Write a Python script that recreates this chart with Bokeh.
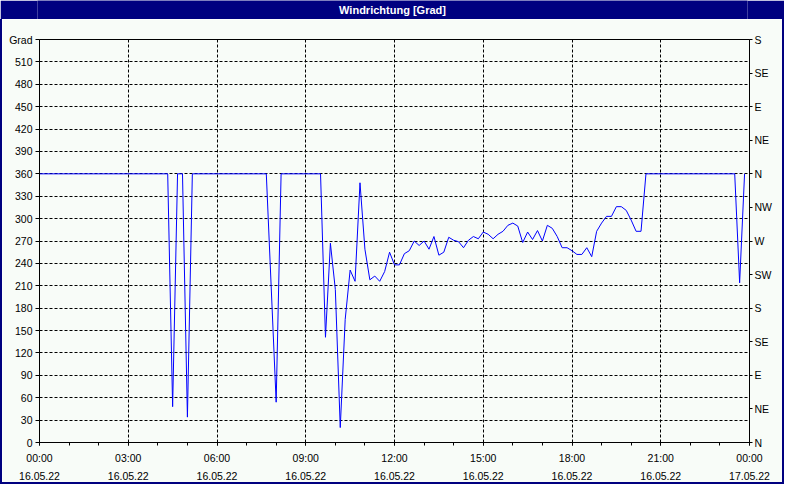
from bokeh.plotting import figure
from bokeh.models import Range1d, LinearAxis, FixedTicker, Label, ColumnDataSource
from bokeh.layouts import column
from bokeh.embed import file_html
from bokeh.resources import INLINE

# ---- data ----
times = ["00:00", "04:20", "04:30", "04:40", "04:50", "05:00", "05:10",
         "07:40", "07:50", "08:00", "08:10",
         "09:30", "09:40", "09:50", "10:00", "10:10", "10:20", "10:30", "10:40", "10:50",
         "11:00", "11:10", "11:20", "11:30", "11:40", "11:50",
         "12:00", "12:10", "12:20", "12:30", "12:40", "12:50",
         "13:00", "13:10", "13:20", "13:30", "13:40", "13:50",
         "14:00", "14:10", "14:20", "14:30", "14:40", "14:50",
         "15:00", "15:10", "15:20", "15:30", "15:40", "15:50",
         "16:00", "16:10", "16:20", "16:30", "16:40", "16:50",
         "17:00", "17:10", "17:20", "17:30", "17:40", "17:50",
         "18:00", "18:10", "18:20", "18:30", "18:40", "18:50",
         "19:00", "19:10", "19:20", "19:30", "19:40", "19:50",
         "20:00", "20:10", "20:20", "20:30",
         "23:30", "23:40", "23:50"]
direction = [360, 360, 48, 360, 360, 34, 360,
             360, 207, 54, 360,
             360, 141, 267, 205, 20, 165, 231, 216, 348,
             259, 218, 223, 216, 229, 255,
             238, 238, 253, 257, 270, 264,
             270, 259, 276, 251, 255, 275,
             271, 269, 261, 271, 276, 273,
             282, 279, 273, 279, 283, 291,
             294, 290, 268, 282, 272, 284,
             270, 291, 287, 276, 261, 261,
             257, 252, 252, 261, 249, 283,
             294, 303, 303, 316, 316, 311,
             298, 283, 283, 360,
             360, 214, 360]

x_ticks = [0, 3, 6, 9, 12, 15, 18, 21, 24]
x_minor_ticks = [0, 1, 2, 3, 4, 5, 6, 7, 8, 9, 10, 11, 12,
                 13, 14, 15, 16, 17, 18, 19, 20, 21, 22, 23, 24]
x_tick_labels = ["00:00\n16.05.22", "03:00\n16.05.22", "06:00\n16.05.22",
                 "09:00\n16.05.22", "12:00\n16.05.22", "15:00\n16.05.22",
                 "18:00\n16.05.22", "21:00\n16.05.22", "00:00\n17.05.22"]
y_ticks = [0, 30, 60, 90, 120, 150, 180, 210, 240, 270, 300, 330, 360,
           390, 420, 450, 480, 510, 540]
y_tick_labels = ["0", "30", "60", "90", "120", "150", "180", "210", "240", "270",
                 "300", "330", "360", "390", "420", "450", "480", "510", "Grad"]
compass_ticks = [0, 45, 90, 135, 180, 225, 270, 315, 360, 405, 450, 495, 540]
compass_labels = ["N", "NE", "E", "SE", "S", "SW", "W", "NW", "N", "NE", "E", "SE", "S"]
title_text = "Windrichtung [Grad]"

hours = [int(t[:2]) + int(t[3:]) / 60.0 for t in times]
src = ColumnDataSource(dict(h=hours, d=direction))

NAVY = "#000080"
BG = "#f8fcf8"
FONT = "Liberation Sans"
FS = "10.5px"

# ---- title bar ----
tb = figure(width=784, height=19, x_range=Range1d(0, 1), y_range=Range1d(0, 1),
            output_backend="svg", toolbar_location=None,
            x_axis_location=None, y_axis_location=None,
            min_border=0, background_fill_color=NAVY, border_fill_color=NAVY,
            outline_line_color=None)
tb.grid.visible = False
tb.add_layout(Label(x=0.5, y=0.5, text=title_text, text_align="center",
                    text_baseline="middle", text_color="white", text_font=FONT,
                    text_font_style="bold", text_font_size="11px"))

# ---- main chart ----
p = figure(width=784, height=465, x_range=Range1d(0, 24), y_range=Range1d(0, 540),
           output_backend="svg", toolbar_location=None,
           min_border_left=37, min_border_right=37, min_border_top=20, min_border_bottom=37,
           background_fill_color=BG, border_fill_color=BG,
           outline_line_color="black", outline_line_width=1,
           styles={"border-left": "2px solid #000080", "border-right": "2px solid #000080",
                   "border-bottom": "2px solid #000080"})

p.line("h", "d", source=src, line_color="#0000ff", line_width=1)

# left axis
ya = p.yaxis[0]
ya.ticker = FixedTicker(ticks=y_ticks)
ya.major_label_overrides = {t: l for t, l in zip(y_ticks, y_tick_labels)}
ya.major_tick_out = 4
ya.major_tick_in = 0
ya.minor_tick_out = 0
ya.minor_tick_in = 0
ya.major_label_standoff = 3

# right axis
p.extra_y_ranges = {"compass": Range1d(0, 540)}
ra = LinearAxis(y_range_name="compass", ticker=FixedTicker(ticks=compass_ticks))
ra.major_label_overrides = {t: l for t, l in zip(compass_ticks, compass_labels)}
ra.major_tick_out = 3
ra.major_tick_in = 0
ra.minor_tick_out = 0
ra.minor_tick_in = 0
ra.major_label_standoff = 2
p.add_layout(ra, "right")

# bottom axis
xa = p.xaxis[0]
xa.ticker = FixedTicker(ticks=x_ticks, minor_ticks=x_minor_ticks)
xa.major_label_overrides = {t: l for t, l in zip(x_ticks, x_tick_labels)}
xa.major_tick_out = 3
xa.major_tick_in = 0
xa.minor_tick_out = 3
xa.minor_tick_in = 0
xa.major_label_standoff = 6
xa.major_label_text_line_height = 1.5

for ax in (ya, ra, xa):
    ax.major_label_text_font = FONT
    ax.major_label_text_font_size = FS
    ax.major_label_text_color = "black"
    ax.axis_line_color = "black"
    ax.major_tick_line_color = "black"
    ax.minor_tick_line_color = "black"

for g in (p.xgrid[0], p.ygrid[0]):
    g.grid_line_color = "black"
    g.grid_line_dash = "3 2"
    g.grid_line_width = 1
    g.grid_line_alpha = 1.0

layout = column(tb, p, spacing=0)
open("out.html", "w").write(file_html(layout, INLINE))
